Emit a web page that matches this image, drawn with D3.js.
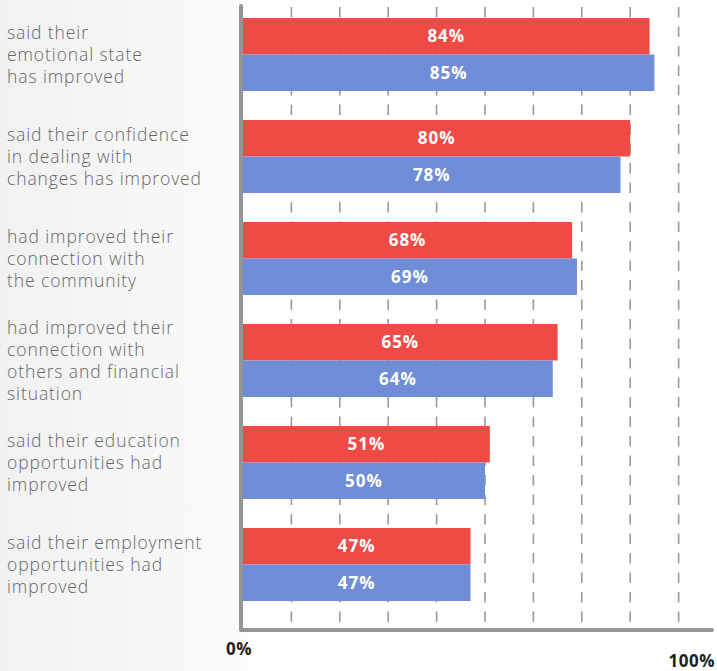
<!DOCTYPE html>
<html>
<head>
<meta charset="utf-8">
<script src="https://cdn.jsdelivr.net/npm/d3@7"></script>
<style>
  html, body { margin: 0; padding: 0; background: #fff; }
  svg { display: block; }
</style>
</head>
<body>
<svg id="chart" width="717" height="671"></svg>
<script>
// categories (label lines) and the two series
var categories = [
  ["said their", "emotional state", "has improved"],
  ["said their confidence", "in dealing with", "changes has improved"],
  ["had improved their", "connection with", "the community"],
  ["had improved their", "connection with", "others and financial", "situation"],
  ["said their education", "opportunities had", "improved"],
  ["said their employment", "opportunities had", "improved"]
];
var seriesRed = [84, 80, 68, 65, 51, 47];
var seriesBlue = [85, 78, 69, 64, 50, 47];
var gridTicks = [10, 20, 30, 40, 50, 60, 70, 80, 90];
var axisLabels = ["0%", "100%"];

var svg = d3.select("#chart");
var W = 717, H = 671;
var FONT = "'Open Sans', Lato, sans-serif";

// background gradient
var defs = svg.append("defs");
var grad = defs.append("linearGradient").attr("id", "bg").attr("x1", 0).attr("x2", 1).attr("y1", 0).attr("y2", 0);
grad.append("stop").attr("offset", "0%").attr("stop-color", "#f1f1f1");
grad.append("stop").attr("offset", "33%").attr("stop-color", "#fafafa");
grad.append("stop").attr("offset", "36%").attr("stop-color", "#ffffff");
grad.append("stop").attr("offset", "100%").attr("stop-color", "#ffffff");
svg.append("rect").attr("width", W).attr("height", H).attr("fill", "url(#bg)");

var x0 = 243;
var x = d3.scaleLinear().domain([0, 100]).range([x0, 727]);

var y = d3.scaleBand()
  .domain(d3.range(categories.length))
  .range([18, 601])
  .paddingInner(0.284)
  .paddingOuter(0);

var sub = d3.scaleBand().domain(["red", "blue"]).range([0, y.bandwidth()]);

// dashed gridlines
svg.append("g").selectAll("line")
  .data(gridTicks)
  .join("line")
  .attr("x1", d => x(d)).attr("x2", d => x(d))
  .attr("y1", 7).attr("y2", 628)
  .attr("stroke", "#9a9a9c")
  .attr("stroke-width", 1.6)
  .attr("stroke-dasharray", "10.5,9");

var groups = svg.append("g").selectAll("g")
  .data(categories)
  .join("g")
  .attr("transform", (d, i) => "translate(0," + y(i) + ")");

groups.append("rect")
  .attr("x", x(0))
  .attr("y", sub("red"))
  .attr("width", (d, i) => x(seriesRed[i]) - x(0))
  .attr("height", sub.bandwidth())
  .attr("fill", "#ef4b46");

groups.append("rect")
  .attr("x", x(0))
  .attr("y", sub("blue"))
  .attr("width", (d, i) => x(seriesBlue[i]) - x(0))
  .attr("height", sub.bandwidth())
  .attr("fill", "#6f8ed7");

function valueLabel(sel, vals, key) {
  sel.append("text")
    .attr("x", (d, i) => (x(0) + x(vals[i])) / 2)
    .attr("y", sub(key) + sub.bandwidth() / 2)
    .attr("dy", "0.36em")
    .attr("text-anchor", "middle")
    .attr("fill", "#fff")
    .attr("font-family", FONT)
    .attr("font-weight", 700)
    .attr("font-size", 17)
    .attr("letter-spacing", 1)
    .text((d, i) => vals[i] + "%");
}
valueLabel(groups, seriesRed, "red");
valueLabel(groups, seriesBlue, "blue");

// category labels
var lineH = 22;
groups.append("text")
  .attr("font-family", FONT)
  .attr("font-weight", 300)
  .attr("font-size", 17.5)
  .attr("letter-spacing", 0.9)
  .attr("fill", "#666")
  .each(function(d) {
    var t = d3.select(this);
    var top = y.bandwidth() / 2 - (d.length - 1) * lineH / 2;
    d.forEach(function(line, k) {
      t.append("tspan")
        .attr("x", 7)
        .attr("y", top + k * lineH)
        .attr("dy", "0.38em")
        .text(line);
    });
  });

// axis lines
svg.append("path")
  .attr("d", "M" + (x0 - 2) + ",6 L" + (x0 - 2) + ",630 L712,630")
  .attr("fill", "none")
  .attr("stroke", "#939598")
  .attr("stroke-width", 4)
  .attr("stroke-linecap", "round")
  .attr("stroke-linejoin", "round");

svg.append("text")
  .attr("x", x0 - 4).attr("y", 655)
  .attr("text-anchor", "middle")
  .attr("font-family", FONT)
  .attr("font-weight", 700)
  .attr("font-size", 17)
  .attr("letter-spacing", 0.5)
  .attr("fill", "#231f20")
  .text(axisLabels[0]);

svg.append("text")
  .attr("x", 715).attr("y", 667)
  .attr("text-anchor", "end")
  .attr("font-family", FONT)
  .attr("font-weight", 700)
  .attr("font-size", 17)
  .attr("letter-spacing", 0.5)
  .attr("fill", "#231f20")
  .text(axisLabels[1]);
</script>
</body>
</html>
